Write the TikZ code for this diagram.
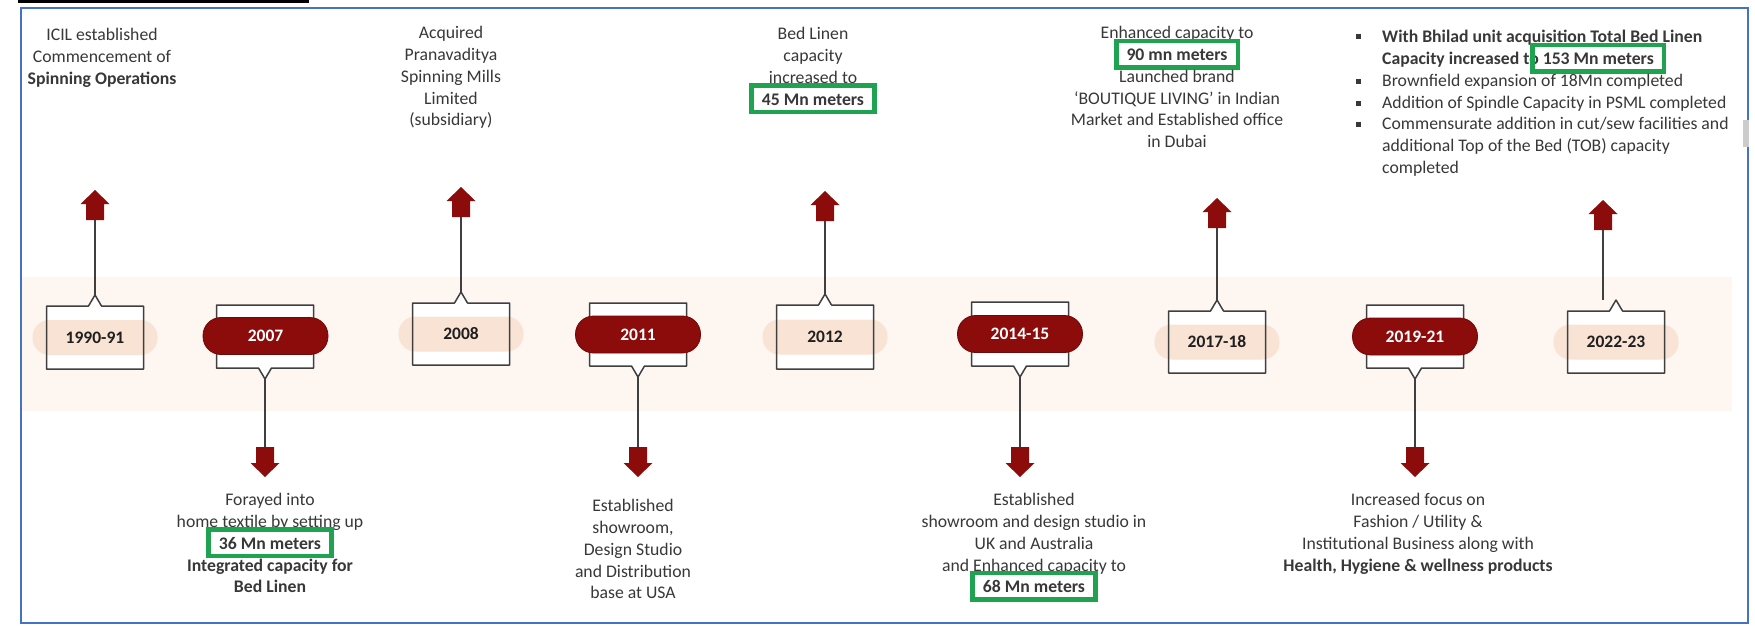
\documentclass[tikz,border=0pt]{standalone}
\usepackage{fontspec}
\setmainfont{Carlito}
\definecolor{dred}{HTML}{8C0B0B}
\definecolor{peach}{HTML}{F8E3D5}
\definecolor{bandc}{HTML}{FDF6F1}
\definecolor{gbox}{HTML}{1FA350}
\definecolor{frameblue}{HTML}{4472C4}
\definecolor{txtc}{HTML}{383838}
\definecolor{boxline}{HTML}{3F3F3F}
\newcommand\gb[1]{\smash{\setlength\fboxsep{3pt}\setlength\fboxrule{4.5pt}\hspace{-12.5pt}\textcolor{gbox}{\fbox{\hspace{5pt}\rule[-1.5pt]{0pt}{16pt}\textcolor{txtc}{\textbf{#1}}\hspace{5pt}}}\hspace{-12.5pt}}}
\newcommand\upbox[4]{\path[#4] (#1-48.5,#2) -- (#1-6.5,#2) -- (#1,#2-11) -- (#1+6.5,#2) -- (#1+48.5,#2) -- (#1+48.5,#3) -- (#1-48.5,#3) -- cycle;}
\newcommand\dnbox[4]{\path[#4] (#1-48.5,#2) -- (#1+48.5,#2) -- (#1+48.5,#3) -- (#1+6.5,#3) -- (#1,#3+11) -- (#1-6.5,#3) -- (#1-48.5,#3) -- cycle;}
\newcommand\uparr[3]{\fill[dred] (#2,#3) -- (#2+14.5,#3+14) -- (#2+9,#3+14) -- (#2+9,#3+30) -- (#2-9,#3+30) -- (#2-9,#3+14) -- (#2-14.5,#3+14) -- cycle; \coordinate (#1) at (#2,#3+30);}
\newcommand\dnarr[3]{\fill[dred] (#2,#3) -- (#2+14.5,#3-14) -- (#2+9,#3-14) -- (#2+9,#3-30) -- (#2-9,#3-30) -- (#2-9,#3-14) -- (#2-14.5,#3-14) -- cycle; \coordinate (#1) at (#2,#3-30);}
\begin{document}
\begin{tikzpicture}[x=1pt,y=-1pt,
  txt/.style={font=\fontsize{17.7}{21.7}\selectfont, align=center, inner sep=0pt, anchor=north, text=txtc},
  pill/.style={rectangle, rounded corners=17pt, minimum width=125pt, minimum height=35pt, inner sep=0pt, fill=peach, text=black!88, font=\fontsize{17.5}{21}\selectfont\bfseries},
  stad/.style={rectangle, rounded corners=18pt, minimum width=125pt, minimum height=37pt, inner sep=0pt, fill=dred, draw=dred!80!black, line width=0.8pt, text=white, font=\fontsize{17.5}{21}\selectfont\bfseries},
  cbox/.style={draw=boxline, line width=1.5pt, line join=round},
  conn/.style={draw=boxline, line width=1.5pt}]
\useasboundingbox (0,0) rectangle (1755,626);
\fill[white] (0,0) rectangle (1755,626);
% band
\fill[bandc] (21,277) rectangle (1732,411);
% frame and decorations
\fill[black] (18,0) rectangle (309,3);
\draw[frameblue, line width=2.2pt] (21,8) rectangle (1748,623);
\fill[gray!40] (1743,120) rectangle (1749,147);

% ---- 1990-91 (up)
\upbox{95}{306}{369}{fill=white}
\node[pill] (y1) at (95,337.5) {1990-91};
\upbox{95}{306}{369}{cbox}
\coordinate (p1) at (95,295);
\uparr{a1}{95}{190}
\draw[conn] (p1) -- (a1);

% ---- 2007 (down)
\dnbox{265}{305}{368}{cbox, fill=white}
\node[stad] (y2) at (265.5,336) {2007};
\coordinate (p2) at (265,379);
\dnarr{a2}{265}{477}
\draw[conn] (p2) -- (a2);

% ---- 2008 (up)
\upbox{461}{303}{365}{fill=white}
\node[pill] (y3) at (461,334) {2008};
\upbox{461}{303}{365}{cbox}
\coordinate (p3) at (461,292);
\uparr{a3}{461}{187}
\draw[conn] (p3) -- (a3);

% ---- 2011 (down)
\dnbox{638}{303}{366}{cbox, fill=white}
\node[stad] (y4) at (638,334.5) {2011};
\coordinate (p4) at (638,377);
\dnarr{a4}{638}{477}
\draw[conn] (p4) -- (a4);

% ---- 2012 (up)
\upbox{825}{305}{369}{fill=white}
\node[pill] (y5) at (825,337) {2012};
\upbox{825}{305}{369}{cbox}
\coordinate (p5) at (825,294);
\uparr{a5}{825}{191}
\draw[conn] (p5) -- (a5);

% ---- 2014-15 (down)
\dnbox{1020}{302}{366}{cbox, fill=white}
\node[stad] (y6) at (1020,334) {2014-15};
\coordinate (p6) at (1020,377);
\dnarr{a6}{1020}{477}
\draw[conn] (p6) -- (a6);

% ---- 2017-18 (up)
\upbox{1217}{311}{373}{fill=white}
\node[pill] (y7) at (1217,342) {2017-18};
\upbox{1217}{311}{373}{cbox}
\coordinate (p7) at (1217,300);
\uparr{a7}{1217}{198}
\draw[conn] (p7) -- (a7);

% ---- 2019-21 (down)
\dnbox{1415}{305}{368}{cbox, fill=white}
\node[stad] (y8) at (1415,336.5) {2019-21};
\coordinate (p8) at (1415,379);
\dnarr{a8}{1415}{477}
\draw[conn] (p8) -- (a8);

% ---- 2022-23 (up)
\upbox{1616}{311}{373}{fill=white}
\node[pill] (y9) at (1616,342) {2022-23};
\upbox{1616}{311}{373}{cbox}
\coordinate (p9) at (1603,300);
\uparr{a9}{1603}{200}
\draw[conn] (p9) -- (a9);

% ---- top texts
\node[txt] (t1) at (102,25.6) {\strut ICIL established\\Commencement of\\\textbf{Spinning Operations}};
\node[txt] (t2) at (451,23.6) {\strut Acquired\\Pranavaditya\\Spinning Mills\\Limited\\(subsidiary)};
\node[txt] (t3) at (813,24.6) {\strut Bed Linen\\capacity\\increased to\\\gb{45 Mn meters}};
\node[txt] (t4) at (1177,23.6) {\strut Enhanced capacity to\\\gb{90 mn meters}\\Launched brand\\‘BOUTIQUE LIVING’ in Indian\\Market and Established office\\in Dubai};
\node[txt, align=left, anchor=north west] (t5) at (1382,27.6) {\strut\textbf{With Bhilad unit acquisition Total Bed Linen}\\\textbf{Capacity increased to }\gb{153 Mn meters}\\Brownfield expansion of 18Mn completed\\Addition of Spindle Capacity in PSML completed\\Commensurate addition in cut/sew facilities and\\additional Top of the Bed (TOB) capacity\\completed};
\foreach \yy in {37,81,103,124} \fill[txtc] (1356,\yy-2.5) rectangle (1361,\yy+2.5);

% ---- bottom texts
\node[txt] (b1) at (270,490.6) {\strut Forayed into\\home textile by setting up\\\gb{36 Mn meters}\\\textbf{Integrated capacity for}\\\textbf{Bed Linen}};
\node[txt] (b2) at (633,496.6) {\strut Established\\showroom,\\Design Studio\\and Distribution\\base at USA};
\node[txt] (b3) at (1034,490.6) {\strut Established\\showroom and design studio in\\UK and Australia\\and Enhanced capacity to\\\gb{68 Mn meters}};
\node[txt] (b4) at (1418,490.6) {\strut Increased focus on\\Fashion / Utility \&\\Institutional Business along with\\\textbf{Health, Hygiene \& wellness products}};
\end{tikzpicture}
\end{document}
